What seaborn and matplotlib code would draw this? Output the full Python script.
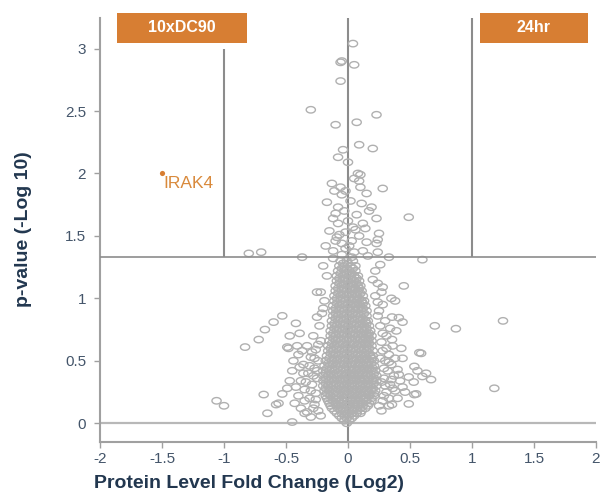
import numpy as np
import pandas as pd
import matplotlib
matplotlib.use("Agg")
import matplotlib.pyplot as plt
from matplotlib.path import Path
from matplotlib.patches import Rectangle
import seaborn as sns

# ---------------- data ----------------
# dense core: rows of proteins, each row = (p-value level, fold changes)
core_p = [0.02, 0.06, 0.10, 0.14, 0.18, 0.22, 0.26, 0.30, 0.34, 0.38, 0.42,
          0.46, 0.50, 0.54, 0.58, 0.62, 0.66, 0.70, 0.74, 0.78, 0.82, 0.86,
          0.90, 0.94, 0.98, 1.02, 1.06, 1.10, 1.14, 1.18, 1.22, 1.26, 1.30]
core_fc = [
    [-0.03, 0.01],
    [-0.07, -0.03, 0.01, 0.05],
    [-0.11, -0.06, -0.02, 0.03, 0.07, 0.11],
    [-0.14, -0.09, -0.05, 0.0, 0.04, 0.08, 0.12, 0.16],
    [-0.16, -0.12, -0.07, -0.03, 0.02, 0.06, 0.10, 0.15, 0.19],
    [-0.18, -0.14, -0.09, -0.05, 0.0, 0.04, 0.08, 0.12, 0.17, 0.21],
    [-0.19, -0.15, -0.10, -0.06, -0.02, 0.03, 0.07, 0.11, 0.15, 0.19, 0.22],
    [-0.20, -0.16, -0.12, -0.07, -0.03, 0.01, 0.05, 0.10, 0.14, 0.18, 0.23],
    [-0.20, -0.15, -0.11, -0.06, -0.02, 0.03, 0.07, 0.11, 0.16, 0.20, 0.23],
    [-0.20, -0.16, -0.12, -0.08, -0.03, 0.01, 0.05, 0.09, 0.14, 0.18, 0.23],
    [-0.20, -0.15, -0.11, -0.06, -0.02, 0.03, 0.07, 0.11, 0.15, 0.19, 0.22],
    [-0.19, -0.15, -0.10, -0.06, -0.01, 0.03, 0.08, 0.12, 0.16, 0.21],
    [-0.18, -0.13, -0.09, -0.04, 0.0, 0.05, 0.09, 0.13, 0.17, 0.21],
    [-0.17, -0.12, -0.08, -0.03, 0.01, 0.06, 0.10, 0.14, 0.18, 0.20],
    [-0.16, -0.12, -0.07, -0.03, 0.02, 0.06, 0.11, 0.15, 0.20],
    [-0.16, -0.11, -0.07, -0.02, 0.02, 0.07, 0.11, 0.15, 0.19],
    [-0.15, -0.10, -0.06, -0.01, 0.03, 0.08, 0.12, 0.16, 0.19],
    [-0.14, -0.10, -0.05, -0.01, 0.04, 0.08, 0.12, 0.16, 0.19],
    [-0.14, -0.09, -0.05, 0.0, 0.04, 0.09, 0.13, 0.18],
    [-0.13, -0.09, -0.04, 0.0, 0.05, 0.09, 0.13, 0.17],
    [-0.13, -0.08, -0.04, 0.01, 0.05, 0.10, 0.14, 0.16],
    [-0.12, -0.08, -0.03, 0.01, 0.06, 0.10, 0.15],
    [-0.12, -0.07, -0.03, 0.02, 0.06, 0.11, 0.15],
    [-0.12, -0.07, -0.02, 0.02, 0.06, 0.10, 0.14],
    [-0.11, -0.06, -0.02, 0.03, 0.07, 0.11, 0.13],
    [-0.11, -0.06, -0.01, 0.03, 0.07, 0.12],
    [-0.10, -0.05, -0.01, 0.04, 0.08, 0.11],
    [-0.10, -0.05, 0.0, 0.04, 0.08, 0.10],
    [-0.09, -0.04, 0.0, 0.05, 0.09],
    [-0.09, -0.04, 0.01, 0.05, 0.08],
    [-0.08, -0.03, 0.01, 0.06],
    [-0.07, -0.03, 0.02, 0.06],
    [-0.06, -0.01, 0.04],
]
# second, interleaved set of core rows
core2_p = [0.0, 0.04, 0.08, 0.12, 0.16, 0.20, 0.24, 0.28, 0.32, 0.36, 0.40,
           0.44, 0.48, 0.52, 0.56, 0.60, 0.64, 0.68, 0.72, 0.76, 0.80, 0.84,
           0.88, 0.92, 0.96, 1.00, 1.04, 1.08, 1.12, 1.16, 1.20, 1.24, 1.28]
core2_fc = [
    [-0.01],
    [-0.05, -0.01, 0.03],
    [-0.09, -0.05, -0.01, 0.03, 0.07, 0.10],
    [-0.13, -0.08, -0.04, 0.01, 0.05, 0.10, 0.14],
    [-0.15, -0.10, -0.06, -0.01, 0.04, 0.08, 0.12, 0.17],
    [-0.17, -0.12, -0.08, -0.03, 0.02, 0.06, 0.10, 0.14, 0.19],
    [-0.17, -0.12, -0.08, -0.04, 0.01, 0.05, 0.09, 0.13, 0.17, 0.21],
    [-0.18, -0.14, -0.09, -0.05, -0.01, 0.03, 0.08, 0.12, 0.16, 0.20],
    [-0.18, -0.14, -0.10, -0.05, -0.01, 0.03, 0.08, 0.12, 0.16, 0.21],
    [-0.18, -0.13, -0.09, -0.04, 0.0, 0.05, 0.09, 0.13, 0.17, 0.21],
    [-0.18, -0.14, -0.09, -0.05, -0.01, 0.04, 0.08, 0.12, 0.16, 0.21],
    [-0.17, -0.13, -0.08, -0.04, 0.01, 0.05, 0.09, 0.13, 0.17, 0.20],
    [-0.16, -0.12, -0.07, -0.03, 0.02, 0.06, 0.10, 0.15, 0.19],
    [-0.15, -0.11, -0.06, -0.02, 0.03, 0.07, 0.11, 0.15, 0.19],
    [-0.14, -0.10, -0.05, -0.01, 0.04, 0.08, 0.13, 0.17],
    [-0.14, -0.09, -0.05, 0.0, 0.04, 0.09, 0.13, 0.17],
    [-0.13, -0.08, -0.04, 0.01, 0.05, 0.10, 0.14, 0.17],
    [-0.12, -0.08, -0.03, 0.01, 0.06, 0.10, 0.14, 0.17],
    [-0.12, -0.07, -0.03, 0.02, 0.06, 0.11, 0.15, 0.17],
    [-0.11, -0.07, -0.02, 0.02, 0.07, 0.11, 0.15],
    [-0.11, -0.06, -0.02, 0.03, 0.07, 0.12, 0.15],
    [-0.10, -0.06, -0.01, 0.03, 0.08, 0.12],
    [-0.10, -0.05, -0.01, 0.04, 0.08, 0.13],
    [-0.10, -0.05, 0.0, 0.04, 0.08, 0.12],
    [-0.09, -0.04, 0.0, 0.05, 0.09, 0.12],
    [-0.09, -0.04, 0.01, 0.05, 0.09],
    [-0.08, -0.03, 0.01, 0.06, 0.10],
    [-0.08, -0.03, 0.02, 0.06, 0.09],
    [-0.07, -0.02, 0.02, 0.07],
    [-0.07, -0.02, 0.03, 0.07],
    [-0.06, -0.01, 0.03],
    [-0.05, -0.01, 0.04],
    [-0.04, 0.0],
]

# scattered proteins outside the dense core (fold change, -log10 p)
outer_fc = [
    0.04, -0.05, -0.06, 0.05, -0.06, -0.30, 0.23, 0.07, -0.10, 0.09, 0.20, -0.04,
    -0.08, 0.0, 0.08, 0.10, -0.13, 0.09, -0.06, -0.11, 0.10, 0.28, 0.15, -0.05,
    -0.17, 0.11, 0.19, -0.08, 0.17, -0.10, 0.07, 0.23, 0.49, -0.12, -0.08, 0.12,
    0.04, -0.15, -0.02, 0.25, 0.09, -0.09, 0.24, -0.18, 0.23, 0.01, -0.05, -0.12,
    0.12, 0.24, 0.05, -0.05, -0.37, 0.33, 0.60, -0.80, -0.70,
    -0.02, 0.03, -0.07, 0.06, 0.15, -0.10, 0.0, 0.14, -0.03, 0.02, 0.03, -0.12,
    0.16, -0.02, 0.05,
    0.45, 0.35, 0.38, 0.28, 0.27, -0.25, -0.22, -0.19, 0.22, 0.26, 0.20, -0.17,
    0.24, -0.20,
    0.70, 0.87, 1.25, 1.18, 0.575, 0.59, 0.67, 0.535, 0.355, 0.44, 0.41, 0.355,
    0.39, 0.355, 0.43, 0.44, 0.535, 0.56, 0.60, 0.49, 0.44, 0.53, 0.63, 0.55,
    0.49, 0.33,
    0.28, 0.31, 0.34, 0.29, 0.32, 0.37, 0.30, 0.35, 0.28, 0.33, 0.38, 0.27,
    0.31, 0.26, 0.30, 0.25, 0.28, 0.40, 0.42, 0.38, 0.27, 0.40, 0.36, 0.24, 0.46,
    0.29, 0.33, 0.30, 0.27, 0.35, 0.29, 0.33, 0.26, 0.31, 0.28, 0.34, 0.24,
    0.22, 0.36, 0.41, 0.25,
    -0.53, -0.60, -0.67, -0.72, -0.83, -0.47, -0.42, -0.48, -0.41, -0.45, -0.47,
    -0.49, -0.68, -0.56, -0.58, -0.43, -0.65, -1.06, -1.00, -0.45, -0.53, -0.35,
    -0.49, -0.39,
    -0.24, -0.27, -0.31, -0.26, -0.35, -0.29, -0.38, -0.25, -0.32, -0.27, -0.36,
    -0.24, -0.30, -0.40, -0.26, -0.33, -0.22, -0.28, -0.35, -0.40, -0.22, -0.30,
    -0.38, -0.23, -0.21, -0.25, -0.20,
    -0.28, -0.33, -0.26, -0.30, -0.34, -0.28, -0.31, -0.25, -0.36, -0.29, -0.24,
    -0.27, -0.42, -0.39, -0.44, -0.37,
]
outer_p = [
    3.04, 2.90, 2.89, 2.87, 2.74, 2.51, 2.47, 2.41, 2.39, 2.23, 2.20, 2.19,
    2.13, 2.09, 2.00, 1.99, 1.92, 1.94, 1.89, 1.86, 1.89, 1.88, 1.84, 1.83,
    1.77, 1.76, 1.73, 1.73, 1.70, 1.68, 1.67, 1.64, 1.65, 1.64, 1.60, 1.60,
    1.57, 1.54, 1.53, 1.52, 1.50, 1.49, 1.47, 1.42, 1.44, 1.42, 1.44, 1.38,
    1.38, 1.37, 1.37, 1.35, 1.33, 1.33, 1.31, 1.36, 1.37,
    1.40, 1.46, 1.51, 1.55, 1.45, 1.46, 1.62, 1.56, 1.70, 1.78, 1.33, 1.32,
    1.34, 1.86, 1.96,
    1.10, 1.00, 0.98, 1.09, 1.05, 1.05, 1.05, 0.98, 1.22, 1.27, 1.15, 1.18,
    1.12, 1.26,
    0.78, 0.757, 0.82, 0.28, 0.565, 0.56, 0.35, 0.23, 0.15, 0.81, 0.845, 0.85,
    0.74, 0.67, 0.60, 0.52, 0.455, 0.42, 0.375, 0.37, 0.29, 0.33, 0.40, 0.235,
    0.155, 0.14,
    0.18, 0.25, 0.31, 0.36, 0.42, 0.38, 0.50, 0.47, 0.58, 0.55, 0.52, 0.65,
    0.70, 0.78, 0.82, 0.90, 0.95, 0.43, 0.34, 0.26, 0.10, 0.20, 0.62, 0.86, 0.25,
    0.22, 0.20, 0.30, 0.33, 0.35, 0.44, 0.49, 0.52, 0.60, 0.72, 0.76, 0.97,
    1.02, 0.28, 0.39, 0.14,
    0.86, 0.81, 0.75, 0.67, 0.61, 0.70, 0.80, 0.60, 0.62, 0.42, 0.34,
    0.28, 0.23, 0.16, 0.15, 0.16, 0.08, 0.18, 0.14, 0.01, 0.235, 0.08,
    0.61, 0.72,
    0.10, 0.15, 0.20, 0.24, 0.27, 0.31, 0.34, 0.36, 0.40, 0.44, 0.47,
    0.50, 0.53, 0.55, 0.59, 0.62, 0.66, 0.70, 0.18, 0.22, 0.06, 0.05,
    0.12, 0.78, 0.88, 0.85, 0.92,
    0.12, 0.09, 0.19, 0.26, 0.33, 0.38, 0.46, 0.42, 0.40, 0.57, 0.63,
    0.52, 0.29, 0.45, 0.50, 0.58,
]

hit_name = ["IRAK4"]
hit_fc = [-1.50]
hit_p = [2.00]

fc_cutoffs = [-1.0, 1.0]
p_cutoff = 1.33
box_labels = ["10xDC90", "24hr"]

x_ticks = [-2, -1.5, -1, -0.5, 0, 0.5, 1, 1.5, 2]
x_tick_labels = ["-2", "-1.5", "-1", "-0.5", "0", "0.5", "1", "1.5", "2"]
y_ticks = [0, 0.5, 1, 1.5, 2, 2.5, 3]
y_tick_labels = ["0", "0.5", "1", "1.5", "2", "2.5", "3"]

# ---------------- build table ----------------
fc_all, p_all = [], []
for rows_p, rows_fc in ((core_p, core_fc), (core2_p, core2_fc)):
    for pv, row in zip(rows_p, rows_fc):
        fc_all.extend(row)
        p_all.extend([pv] * len(row))
fc_all.extend(outer_fc)
p_all.extend(outer_p)
df = pd.DataFrame({"fc": fc_all, "p": p_all})

# ---------------- style ----------------
sns.set_theme(style="white")
plt.rcParams["font.family"] = ["Liberation Sans", "DejaVu Sans"]

tick_col = "#44556a"
label_col = "#22374f"
line_col = "#8c8c8c"
spine_col = "#a0a0a0"
point_col = "#b0b0b0"
orange = "#d77e33"

fig = plt.figure(figsize=(6.0, 4.96), dpi=100)
ax = fig.add_axes([100 / 600, 54 / 496, 496 / 600, 424 / 496])

# ellipse marker (slightly wider than tall)
t = np.linspace(0, 2 * np.pi, 41)
ell = Path(np.column_stack([np.cos(t), 0.7 * np.sin(t)]), closed=True)

# reference lines
ax.axhline(0, color="#b8b8b8", lw=1.6, zorder=1)
ax.axhline(p_cutoff, color=line_col, lw=1.2, zorder=3)
ax.vlines(0, -0.15, 3.245, color=line_col, lw=1.5, zorder=1)
ax.vlines(fc_cutoffs[0], p_cutoff, 3.0, color=line_col, lw=1.5, zorder=1)
ax.vlines(fc_cutoffs[1], p_cutoff, 3.245, color=line_col, lw=1.5, zorder=1)

sns.scatterplot(data=df, x="fc", y="p", marker=ell, s=44,
                color=point_col, facecolor="none", edgecolor=point_col,
                linewidth=1.0, ax=ax, zorder=2, legend=False)

sns.scatterplot(x=hit_fc, y=hit_p, color=orange, edgecolor=orange, s=14,
                linewidth=0, ax=ax, zorder=4, legend=False)
for name, xv, yv in zip(hit_name, hit_fc, hit_p):
    ax.text(xv + 0.012, yv - 0.08, name, color="#d98a3c", fontsize=12.5,
            ha="left", va="center", zorder=5)

# header boxes
box_specs = [(-1.866, 1.051), (1.067, 0.865)]
for (x0, w), lab in zip(box_specs, box_labels):
    ax.add_patch(Rectangle((x0, 3.043), w, 0.24, facecolor=orange,
                           edgecolor="none", clip_on=False, zorder=6))
    ax.text(x0 + w / 2, 3.043 + 0.125, lab, color="white", fontsize=11.5,
            fontweight="bold", ha="center", va="center", clip_on=False, zorder=7)

ax.set_xlim(-2, 2)
ax.set_ylim(-0.15, 3.245)
ax.set_xticks(x_ticks)
ax.set_xticklabels(x_tick_labels)
ax.set_yticks(y_ticks)
ax.set_yticklabels(y_tick_labels)
ax.tick_params(axis="both", which="major", length=4, width=1, color=spine_col,
               labelcolor=tick_col, labelsize=11, bottom=True, left=True)
ax.tick_params(axis="x", pad=3)
ax.tick_params(axis="y", pad=6)

for s in ["top", "right"]:
    ax.spines[s].set_visible(False)
for s in ["left", "bottom"]:
    ax.spines[s].set_color(spine_col)
    ax.spines[s].set_linewidth(1.5)

ax.set_xlabel("Protein Level Fold Change (Log2)", fontsize=14,
              fontweight="bold", color=label_col)
ax.set_ylabel("p-value (-Log 10)", fontsize=14, fontweight="bold",
              color=label_col)
ax.xaxis.set_label_coords(0.30, -0.078)
ax.yaxis.set_label_coords(-0.137, 0.503)

fig.savefig("out.png", dpi=100)
